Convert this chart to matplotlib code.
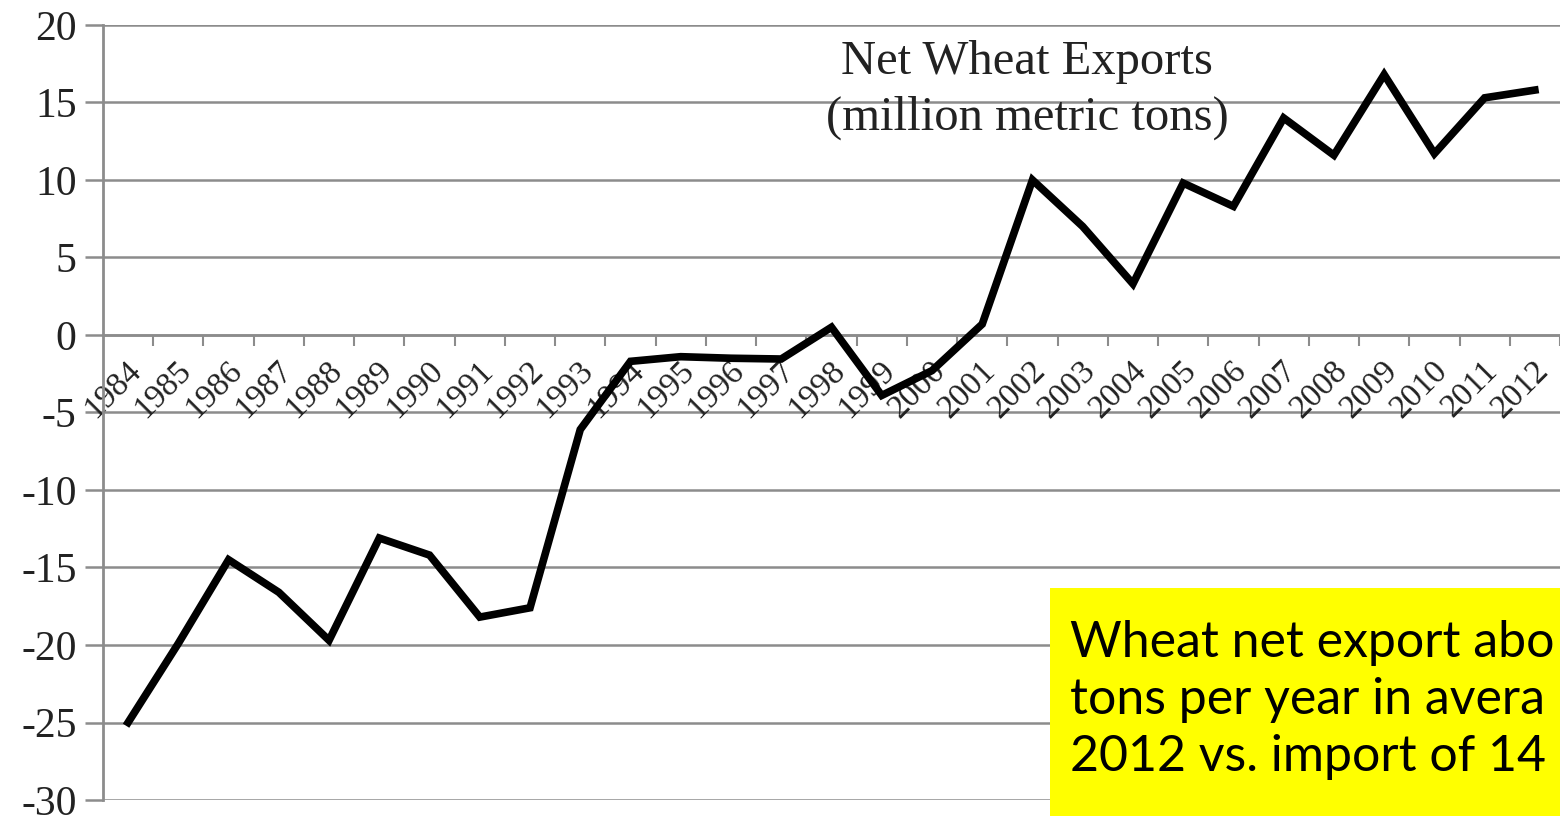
import matplotlib.pyplot as plt
from matplotlib.patches import Rectangle

# Net wheat exports, million metric tons
years = [str(y) for y in range(1984, 2013)]
net_exports = [-25.0, -19.9, -14.5, -16.6, -19.7, -13.1, -14.2, -18.2, -17.6, -6.1,
               -1.7, -1.4, -1.5, -1.55, 0.5, -3.9, -2.3, 0.7, 10.0, 7.0,
               3.3, 9.8, 8.3, 14.0, 11.6, 16.8, 11.7, 15.3, 15.8]
y_ticks = [20, 15, 10, 5, 0, -5, -10, -15, -20, -25, -30]
y_labels = ["20", "15", "10", "5", "0", "-5", "-10", "-15", "-20", "-25", "-30"]

serif = "Liberation Serif"
grid_col = "#8c8c8c"

fig = plt.figure(figsize=(15.6, 8.16), dpi=100)
ax = fig.add_axes([0.066, 0.0196, 0.934, 0.9498])

x = list(range(len(years)))
ax.plot(x, net_exports, color="black", linewidth=5.5, solid_joinstyle="miter", zorder=3)

ax.set_ylim(-30, 20)
ax.set_xlim(-0.5, 28.14)

ax.set_yticks(y_ticks)
ax.set_yticklabels(y_labels, fontfamily=serif, fontsize=30, color="#222222")
ax.tick_params(axis="y", length=13, width=1.8, color=grid_col, pad=6)
ax.yaxis.grid(True, color=grid_col, linewidth=1.8)

# category axis crossing at zero, ticks between categories
ax.spines["bottom"].set_position(("data", 0))
ax.spines["bottom"].set_color(grid_col)
ax.spines["bottom"].set_linewidth(1.8)
ax.set_xticks([i + 0.5 for i in x])
ax.set_xticklabels([])
ax.tick_params(axis="x", length=8, width=1.5, color=grid_col, direction="out")
for side in ["top", "right"]:
    ax.spines[side].set_visible(False)
ax.spines["left"].set_color(grid_col)
ax.spines["left"].set_linewidth(2)

for i, lab in enumerate(years):
    ax.text(i - 0.3, -3.5, lab, rotation=45, ha="center", va="center",
            fontfamily=serif, fontsize=24, color="#222222", zorder=2)

ax.text(17.9, 15.8, "Net Wheat Exports\n(million metric tons)", ha="center", va="center",
        fontfamily=serif, fontsize=35, linespacing=1.35, color="#222222")

# yellow note box, cut at the right edge
fig.patches.append(Rectangle((1050 / 1560, 0), 0.4, (816 - 588) / 816,
                             transform=fig.transFigure, facecolor="#ffff00",
                             edgecolor="none", zorder=5))
fig.text(1070 / 1560, (816 - 700) / 816,
         "Wheat net export abo\ntons per year in avera\n2012 vs. import of 14",
         ha="left", va="center", fontfamily="Lato", fontsize=36,
         linespacing=1.3, color="black", zorder=6)

fig.savefig("out.png", dpi=100)
